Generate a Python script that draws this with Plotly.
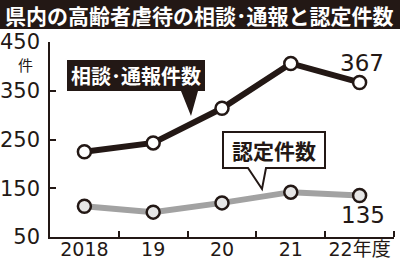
import plotly.graph_objects as go

# ---- data ----
years = ["2018", "19", "20", "21", "22年度"]
consult = [225, 243, 314, 406, 367]      # 相談・通報件数
certified = [113, 101, 120, 142, 135]    # 認定件数
y_ticks = [50, 150, 250, 350, 450]

title_text = "県内の高齢者虐待の相談･通報と認定件数"
label_consult = "相談･通報件数"
label_cert = "認定件数"
unit_text = "件"

# ---- layout geometry ----
W, H = 400, 260
ML, MR, MT, MB = 50, 6, 42, 23
PW = W - ML - MR
PH = H - MT - MB
INK = "#231815"
NUM_FONT = "DejaVu Sans, Noto Sans CJK JP"
JP_FONT = "Noto Sans CJK JP, DejaVu Sans"


def px(xp):
    return (xp - ML) / PW


def py(yp):
    return (H - MB - yp) / PH


def path(points):
    s = "M " + " L ".join(f"{px(a):.5f},{py(b):.5f}" for a, b in points)
    return s + " Z"


xs = list(range(len(years)))

fig = go.Figure()
fig.add_trace(go.Scatter(
    x=xs, y=certified, mode="lines+markers", cliponaxis=False,
    line=dict(color="#a2a2a2", width=6),
    marker=dict(size=13, color="#e6e6e6", line=dict(color=INK, width=2.5)),
    hoverinfo="skip"))
fig.add_trace(go.Scatter(
    x=xs, y=consult, mode="lines+markers", cliponaxis=False,
    line=dict(color=INK, width=6),
    marker=dict(size=13, color="white", line=dict(color=INK, width=2.5)),
    hoverinfo="skip"))

shapes = [
    # title bar
    dict(type="rect", xref="paper", yref="paper",
         x0=px(0), x1=px(W), y0=py(29), y1=py(0),
         fillcolor=INK, line=dict(width=0), layer="above"),
    # black callout
    dict(type="path", xref="paper", yref="paper",
         path=path([(67, 60), (205, 60), (205, 91), (198, 91), (191, 116), (181, 91), (67, 91)]),
         fillcolor=INK, line=dict(width=0), layer="above"),
    # white callout
    dict(type="path", xref="paper", yref="paper",
         path=path([(223, 132), (325, 132), (325, 168), (266, 168), (262, 189), (248, 168), (223, 168)]),
         fillcolor="white", line=dict(color=INK, width=2), layer="above"),
]

annotations = [
    dict(xref="paper", yref="paper", x=px(199), y=py(15), text=title_text,
         showarrow=False, xanchor="center", yanchor="middle",
         font=dict(family=JP_FONT, size=21, color="white", weight=700)),
    dict(xref="paper", yref="paper", x=px(136), y=py(75.5), text=label_consult,
         showarrow=False, xanchor="center", yanchor="middle",
         font=dict(family=JP_FONT, size=20, color="white", weight=700)),
    dict(xref="paper", yref="paper", x=px(274), y=py(150), text=label_cert,
         showarrow=False, xanchor="center", yanchor="middle",
         font=dict(family=JP_FONT, size=21, color=INK, weight=700)),
    dict(xref="paper", yref="paper", x=px(25), y=py(64), text=unit_text,
         showarrow=False, xanchor="center", yanchor="middle",
         font=dict(family=JP_FONT, size=15, color=INK)),
    dict(x=xs[-1], y=consult[-1], text=str(consult[-1]), showarrow=False,
         xanchor="center", yanchor="middle", yshift=19, xshift=2,
         font=dict(family=NUM_FONT, size=23, color=INK)),
    dict(x=xs[-1], y=certified[-1], text=str(certified[-1]), showarrow=False,
         xanchor="center", yanchor="middle", yshift=-19, xshift=3,
         font=dict(family=NUM_FONT, size=23, color=INK)),
]

fig.update_layout(
    width=W, height=H, margin=dict(l=ML, r=MR, t=MT, b=MB, autoexpand=False),
    paper_bgcolor="white", plot_bgcolor="white", showlegend=False,
    shapes=shapes, annotations=annotations,
    xaxis=dict(range=[-0.5, 4.5], tickvals=xs, ticktext=years, automargin=False,
               showgrid=False, zeroline=False, showline=True,
               linecolor=INK, linewidth=1.5, ticks="", ticklen=0,
               ticklabelstandoff=-6,
               tickfont=dict(family=NUM_FONT, size=19, color=INK),
               minor=dict(tickvals=[0.5, 1.5, 2.5, 3.5, 4.5], ticks="inside",
                          ticklen=6, tickwidth=1.5, tickcolor=INK, showgrid=False),
               fixedrange=True),
    yaxis=dict(range=[50, 450], tickvals=y_ticks, automargin=False,
               showgrid=False, zeroline=False, showline=True,
               linecolor=INK, linewidth=1.5, ticks="inside", ticklen=6,
               tickwidth=1.5, tickcolor=INK, ticklabelstandoff=4,
               tickfont=dict(family=NUM_FONT, size=21, color=INK),
               fixedrange=True),
)

fig.write_html("out.html", config={"displayModeBar": False})
